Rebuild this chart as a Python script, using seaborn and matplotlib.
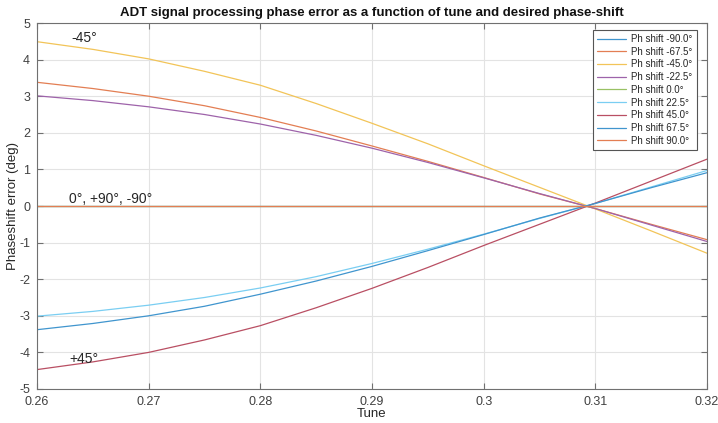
import numpy as np
import pandas as pd
import seaborn as sns
import matplotlib
matplotlib.use("Agg")
import matplotlib.pyplot as plt
from matplotlib.colors import to_rgb
from matplotlib.ticker import FormatStrFormatter

# values, one point every 0.005 in tune
tune = [0.26, 0.265, 0.27, 0.275, 0.28, 0.285, 0.29, 0.295, 0.30, 0.305, 0.31, 0.315, 0.32]

err_m90 = [0.0] * 13
err_m675 = [3.38, 3.21, 3.00, 2.74, 2.42, 2.05, 1.64, 1.22, 0.78, 0.33, -0.07, -0.50, -0.92]
err_m45 = [4.49, 4.28, 4.02, 3.68, 3.30, 2.80, 2.26, 1.70, 1.10, 0.51, -0.08, -0.68, -1.29]
err_m225 = [3.01, 2.88, 2.71, 2.50, 2.24, 1.93, 1.58, 1.19, 0.77, 0.34, -0.07, -0.52, -0.97]
err_0 = [0.0] * 13
err_p225 = [-3.01, -2.88, -2.71, -2.50, -2.24, -1.93, -1.57, -1.18, -0.77, -0.34, 0.07, 0.52, 0.97]
err_p45 = [-4.47, -4.26, -4.00, -3.66, -3.27, -2.78, -2.25, -1.68, -1.08, -0.50, 0.08, 0.68, 1.28]
err_p675 = [-3.38, -3.21, -3.00, -2.74, -2.41, -2.05, -1.65, -1.22, -0.78, -0.33, 0.07, 0.50, 0.91]
err_p90 = [0.0] * 13

shifts = [-90.0, -67.5, -45.0, -22.5, 0.0, 22.5, 45.0, 67.5, 90.0]
series = [err_m90, err_m675, err_m45, err_m225, err_0, err_p225, err_p45, err_p675, err_p90]

# matlab default colour order, washed out a bit like the thin lines in the original
colors = ["#0072BD", "#D95319", "#EDB120", "#7E2F8E", "#77AC30",
          "#4DBEEE", "#A2142F", "#0072BD", "#D95319"]
colors = [tuple(0.75 * c + 0.25 for c in to_rgb(col)) for col in colors]

labels = ["Ph shift {:.1f}\u00b0".format(s) for s in shifts]
rows = []
for lab, vals in zip(labels, series):
    for t, v in zip(tune, vals):
        rows.append((t, v, lab))
df = pd.DataFrame(rows, columns=["tune", "err", "shift"])

sns.set_style("whitegrid")
plt.rcParams['font.family'] = ['Liberation Sans', 'DejaVu Sans']
plt.rcParams['axes.unicode_minus'] = False

fig, ax = plt.subplots(figsize=(7.18, 4.23), dpi=100)
fig.subplots_adjust(left=0.0515, right=0.9847, top=0.9456, bottom=0.0804)

sns.lineplot(data=df, x="tune", y="err", hue="shift", hue_order=labels,
             palette=colors, linewidth=0.9, ax=ax, sort=False)

ax.set_xlim(0.26, 0.32)
ax.set_ylim(-5, 5)
ax.set_xticks(np.arange(0.26, 0.3201, 0.01))
ax.set_yticks(range(-5, 6))
ax.xaxis.set_major_formatter(FormatStrFormatter('%g'))
ax.grid(True, color="#e3e3e3", linewidth=0.8)
for sp in ax.spines.values():
    sp.set_visible(True)
    sp.set_color("#707070")
    sp.set_linewidth(0.8)
ax.tick_params(direction="in", length=4, width=0.8, color="#707070",
               labelsize=9, labelcolor="#404040", top=True, right=True,
               bottom=True, left=True)
ax.tick_params(axis="x", pad=5)
ax.tick_params(axis="y", pad=5)

ax.set_xlabel("Tune", fontsize=9.5, color="#262626", labelpad=0)
ax.set_ylabel("Phaseshift error (deg)", fontsize=9.5, color="#262626", labelpad=0)
ax.set_title("ADT signal processing phase error as a function of tune and desired phase-shift",
             fontsize=9.5, fontweight="bold", color="#111111", pad=5)

ax.text(0.2631, 4.6, "-45\u00b0", fontsize=10, va="center", ha="left")
ax.text(0.2629, 0.2, "0\u00b0, +90\u00b0, -90\u00b0", fontsize=10, va="center", ha="left")
ax.text(0.2629, -4.18, "+45\u00b0", fontsize=10, va="center", ha="left")

leg = ax.legend(loc="upper right", fontsize=7.0, frameon=True, fancybox=False,
                framealpha=1, edgecolor="#555555", handlelength=3.0,
                borderpad=0.45, labelspacing=0.28, handletextpad=0.5,
                borderaxespad=0.3, bbox_to_anchor=(0.989, 0.99))
leg.get_frame().set_linewidth(0.8)

fig.savefig("out.png", dpi=100)
